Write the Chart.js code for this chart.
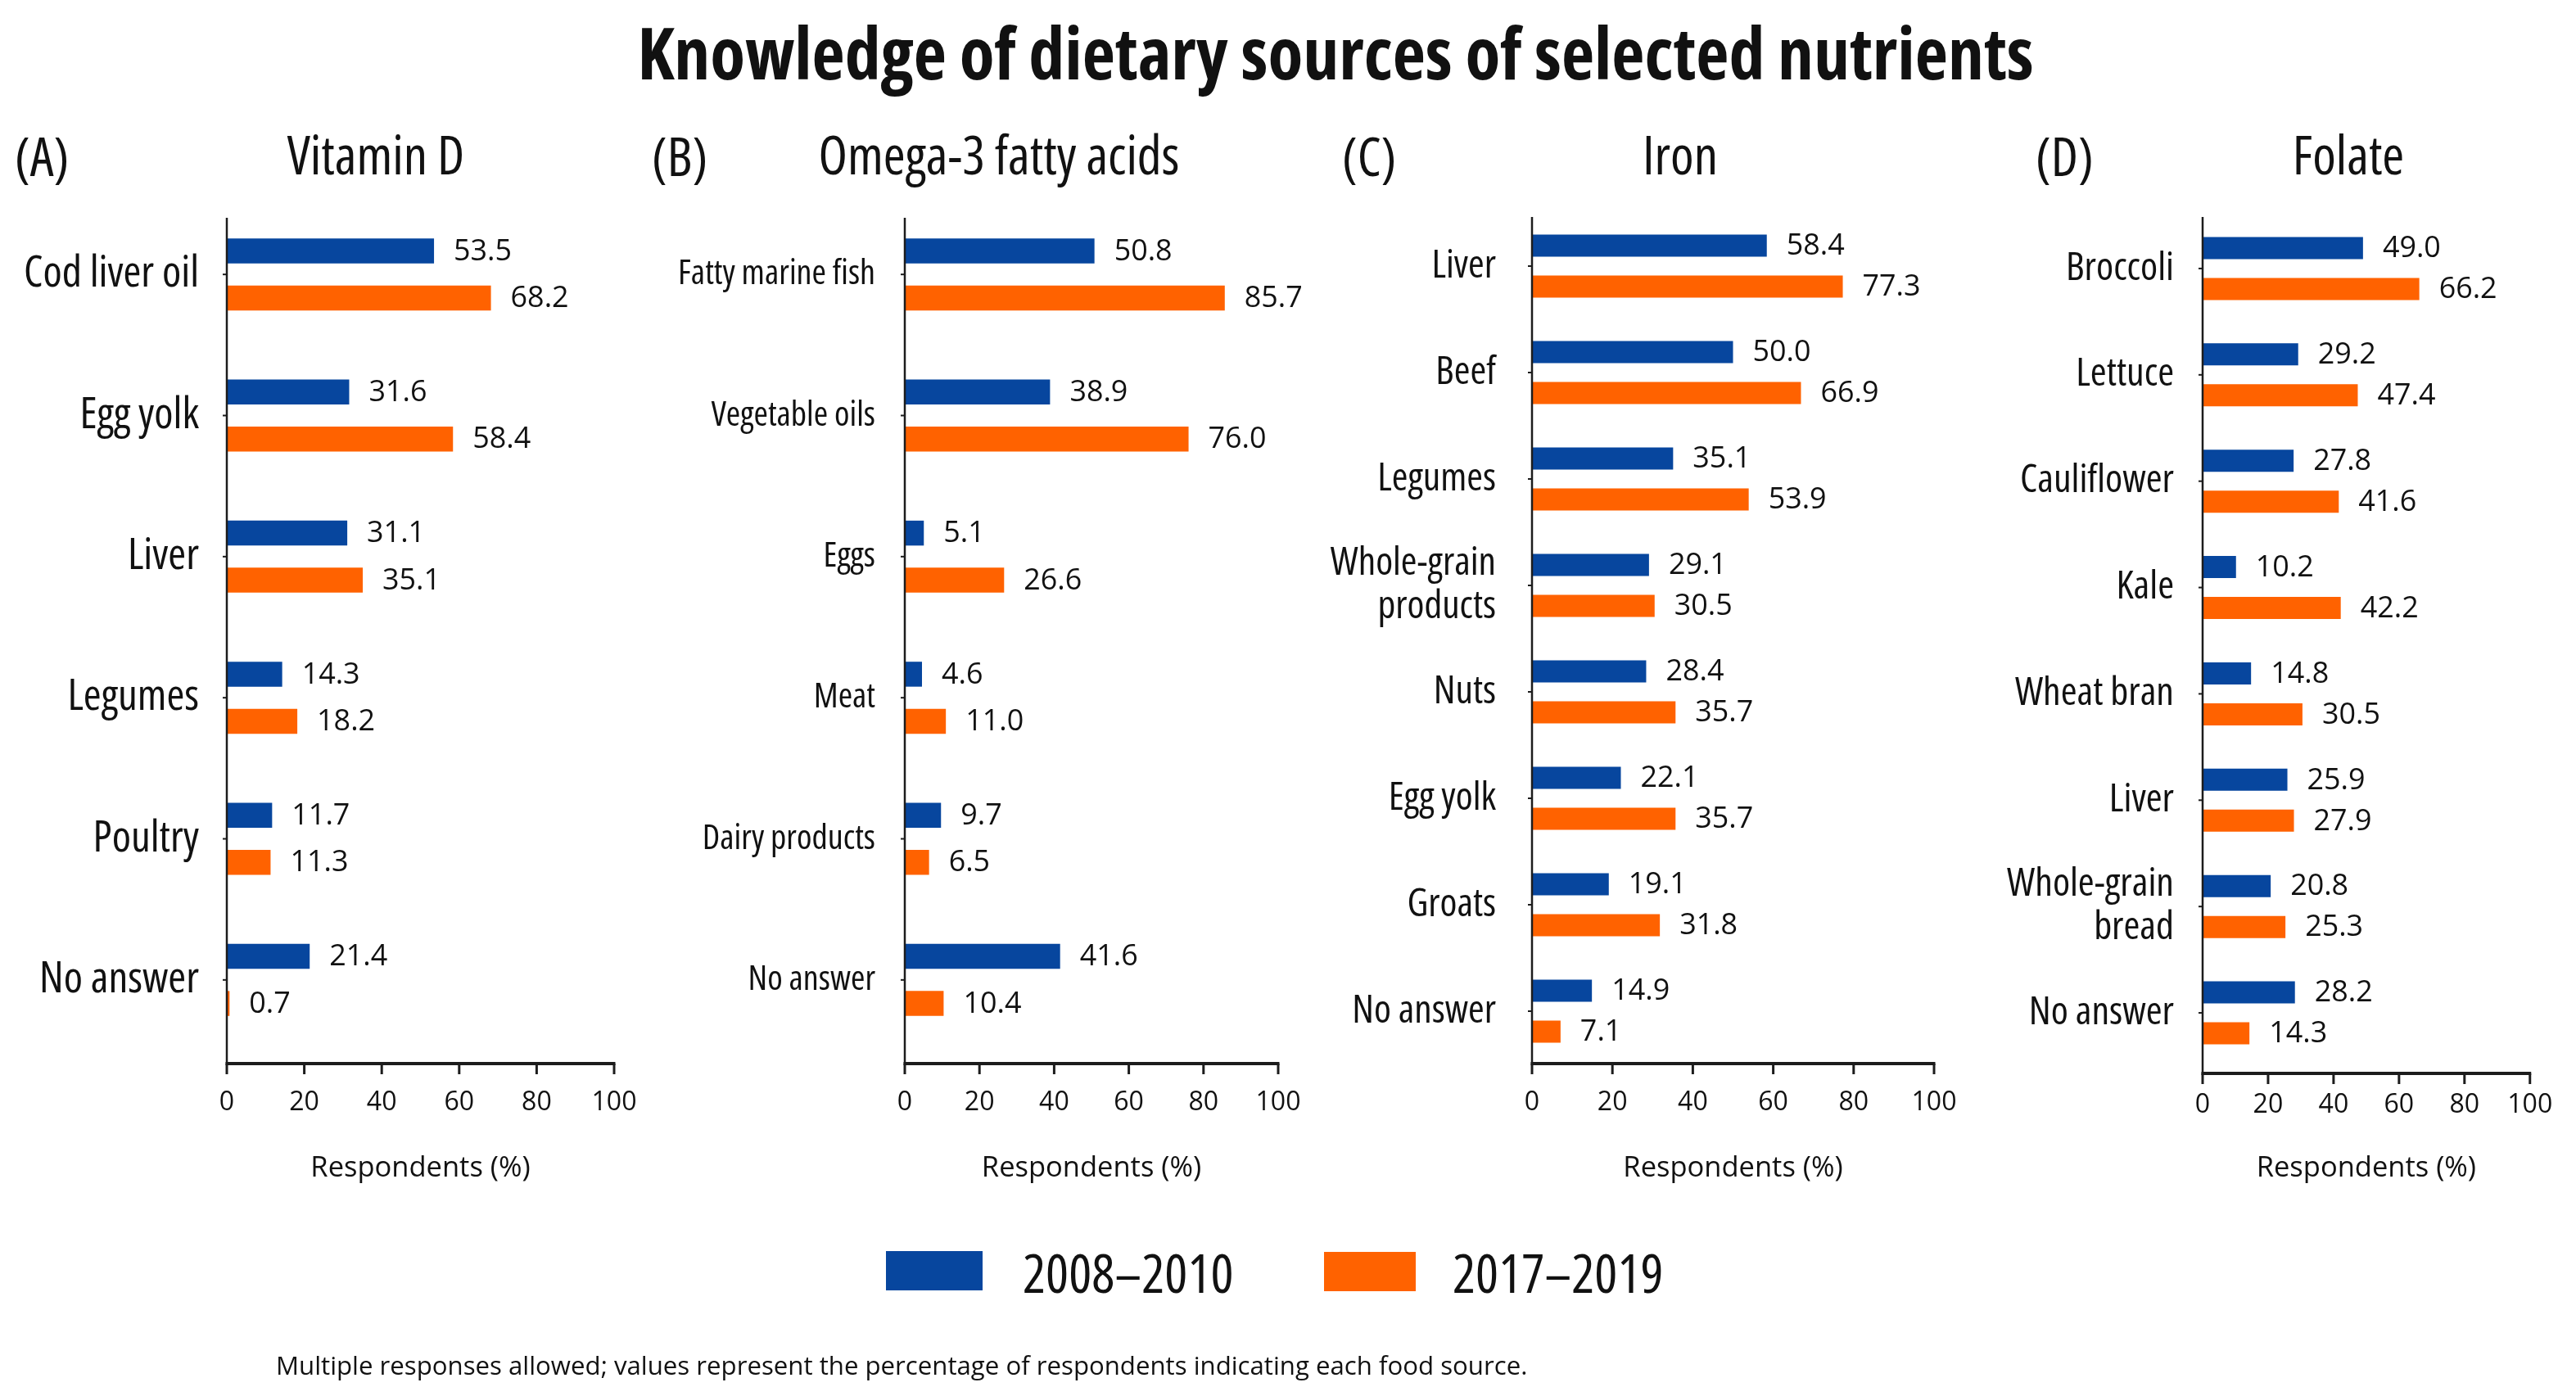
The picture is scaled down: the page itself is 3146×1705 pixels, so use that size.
<!DOCTYPE html>
<html>
<head>
<meta charset="utf-8">
<title>Knowledge of dietary sources of selected nutrients</title>
<script src="https://cdn.jsdelivr.net/npm/chart.js@4.4.1/dist/chart.umd.min.js"></script>
<style>
  body { margin: 0; background: #fff; width: 3146px; height: 1705px; position: relative; overflow: hidden; }
  .txt { position: absolute; white-space: nowrap; color: #111; line-height: 1; }
  .box { position: absolute; }
</style>
</head>
<body>
<script>
// data
const periods = ['2008–2010', '2017–2019'];
const xTicks = [0, 20, 40, 60, 80, 100];
const axisTitle = 'Respondents (%)';

const vitaminDFoods = ['Cod liver oil', 'Egg yolk', 'Liver', 'Legumes', 'Poultry', 'No answer'];
const vitaminD2008 = [53.5, 31.6, 31.1, 14.3, 11.7, 21.4];
const vitaminD2017 = [68.2, 58.4, 35.1, 18.2, 11.3, 0.7];

const omega3Foods = ['Fatty marine fish', 'Vegetable oils', 'Eggs', 'Meat', 'Dairy products', 'No answer'];
const omega32008 = [50.8, 38.9, 5.1, 4.6, 9.7, 41.6];
const omega32017 = [85.7, 76.0, 26.6, 11.0, 6.5, 10.4];

const ironFoods = ['Liver', 'Beef', 'Legumes', ['Whole-grain', 'products'], 'Nuts', 'Egg yolk', 'Groats', 'No answer'];
const iron2008 = [58.4, 50.0, 35.1, 29.1, 28.4, 22.1, 19.1, 14.9];
const iron2017 = [77.3, 66.9, 53.9, 30.5, 35.7, 35.7, 31.8, 7.1];

const folateFoods = ['Broccoli', 'Lettuce', 'Cauliflower', 'Kale', 'Wheat bran', 'Liver', ['Whole-grain', 'bread'], 'No answer'];
const folate2008 = [49.0, 29.2, 27.8, 10.2, 14.8, 25.9, 20.8, 28.2];
const folate2017 = [66.2, 47.4, 41.6, 42.2, 30.5, 27.9, 25.3, 14.3];

const blue = '#07469e';
const orange = '#ff6200';
const ink = '#111';

// pick the narrowest installed sans face
const fontCandidates = [
  { family: "'Noto Sans'", stretch: 'condensed' },
  { family: "'Open Sans'", stretch: 'condensed' },
  { family: "'Liberation Sans Narrow'", stretch: '' },
  { family: "'DejaVu Sans Condensed'", stretch: '' },
  { family: "'Noto Sans'", stretch: '' }
];
const measureCtx = document.createElement('canvas').getContext('2d');
let pageFont = fontCandidates[fontCandidates.length - 1];
let narrowest = Infinity;
fontCandidates.forEach(f => {
  measureCtx.font = (f.stretch ? f.stretch + ' ' : '') + '100px ' + f.family + ', monospace';
  const w = measureCtx.measureText('Fatty marine fish').width;
  if (w < narrowest) { narrowest = w; pageFont = f; }
});

function fontString(size, bold, stretch) {
  const st = stretch || pageFont.stretch;
  return (bold ? 'bold ' : '') + (st ? st + ' ' : '') + size + 'px ' + pageFont.family + ', sans-serif';
}
function fitSize(text, width, maxSize, bold, stretch) {
  measureCtx.font = fontString(100, bold, stretch);
  const s = 100 * width / measureCtx.measureText(text).width;
  return Math.min(maxSize, Math.round(s * 10) / 10);
}

Chart.defaults.font.family = pageFont.family + ', sans-serif';
Chart.defaults.font.weight = pageFont.stretch ? '400 ' + pageFont.stretch : '400';
Chart.defaults.color = ink;

// numbers and the axis title use the regular width
const tickSize = fitSize('100', 55, 37, false, 'normal');
const valueSize = fitSize('53.5', 71, 36, false, 'normal');
const axisTitleSize = fitSize(axisTitle, 268, 42, false, 'normal');

// html text helpers
function addText(text, x, y, size, opts = {}) {
  const d = document.createElement('div');
  d.className = 'txt';
  d.textContent = text;
  d.style.fontFamily = pageFont.family + ', sans-serif';
  const st = opts.stretch || pageFont.stretch;
  if (st) d.style.fontStretch = st;
  d.style.fontSize = size + 'px';
  d.style.fontWeight = opts.bold ? '700' : '400';
  d.style.left = x + 'px';
  d.style.top = y + 'px';
  d.style.transform = opts.center ? 'translate(-50%, -50%)' : 'translate(0, -50%)';
  document.body.appendChild(d);
}
function addBox(color, x, y, w, h) {
  const d = document.createElement('div');
  d.className = 'box';
  d.style.cssText = `left:${x}px;top:${y}px;width:${w}px;height:${h}px;background:${color}`;
  document.body.appendChild(d);
}

// value labels at the end of each bar
const valueLabels = {
  id: 'valueLabels',
  afterDatasetsDraw(chart) {
    const ctx = chart.ctx;
    ctx.save();
    ctx.font = fontString(valueSize, false, 'normal');
    ctx.fillStyle = ink;
    ctx.textAlign = 'left';
    ctx.textBaseline = 'middle';
    chart.data.datasets.forEach((ds, i) => {
      chart.getDatasetMeta(i).data.forEach((bar, j) => {
        ctx.fillText(ds.data[j].toFixed(1), bar.x + 24, bar.y + 1);
      });
    });
    ctx.restore();
  }
};

// axis lines and tick marks
const axisLines = {
  id: 'axisLines',
  afterDraw(chart, args, opts) {
    const { ctx, chartArea, scales: { x, y } } = chart;
    ctx.save();
    ctx.strokeStyle = '#1c1c1c';
    ctx.lineWidth = 2.5;
    ctx.beginPath();
    ctx.moveTo(chartArea.left, opts.top);
    ctx.lineTo(chartArea.left, opts.bottom);
    ctx.stroke();
    ctx.lineWidth = 2;
    y.ticks.forEach((t, i) => {
      const py = y.getPixelForValue(i);
      ctx.beginPath();
      ctx.moveTo(chartArea.left - 5, py);
      ctx.lineTo(chartArea.left, py);
      ctx.stroke();
    });
    ctx.lineWidth = 4;
    ctx.beginPath();
    ctx.moveTo(chartArea.left - 1.5, opts.bottom);
    ctx.lineTo(chartArea.right + 1.5, opts.bottom);
    ctx.stroke();
    ctx.lineWidth = 3;
    x.ticks.forEach(t => {
      const px = x.getPixelForValue(t.value);
      ctx.beginPath();
      ctx.moveTo(px, opts.bottom);
      ctx.lineTo(px, opts.bottom + 13);
      ctx.stroke();
    });
    ctx.restore();
  }
};

const panelSetup = [
  { key: '(A)', name: 'Vitamin D', foods: vitaminDFoods, early: vitaminD2008, late: vitaminD2017,
    left: 0, width: 870, axisX: 277, x100: 750, bandTop: 249, bandBottom: 1283, axisTop: 266, axisBottom: 1299,
    tickY: 1347, labelGap: 34, sample: 'Cod liver oil', sampleWidth: 214, maxLabel: 54,
    catPct: 0.667, barPct: 0.53, keyX: 18, nameX: 459 },
  { key: '(B)', name: 'Omega-3 fatty acids', foods: omega3Foods, early: omega32008, late: omega32017,
    left: 790, width: 880, axisX: 1105, x100: 1561, bandTop: 249, bandBottom: 1283, axisTop: 266, axisBottom: 1299,
    tickY: 1347, labelGap: 36, sample: 'Fatty marine fish', sampleWidth: 241, maxLabel: 46,
    catPct: 0.667, barPct: 0.53, keyX: 796, nameX: 1220 },
  { key: '(C)', name: 'Iron', foods: ironFoods, early: iron2008, late: iron2017,
    left: 1600, width: 880, axisX: 1871, x100: 2362, bandTop: 260, bandBottom: 1300, axisTop: 265, axisBottom: 1299,
    tickY: 1347, labelGap: 44, sample: 'Whole-grain', sampleWidth: 202, maxLabel: 48,
    catPct: 0.77, barPct: 0.54, keyX: 1639, nameX: 2052 },
  { key: '(D)', name: 'Folate', foods: folateFoods, early: folate2008, late: folate2017,
    left: 2420, width: 726, axisX: 2690, x100: 3105, bandTop: 263, bandBottom: 1302, axisTop: 265, axisBottom: 1311,
    tickY: 1350, labelGap: 35, sample: 'Cauliflower', sampleWidth: 188, maxLabel: 48,
    catPct: 0.77, barPct: 0.54, keyX: 2486, nameX: 2868 }
];

const headSize = fitSize('Omega-3 fatty acids', 447, 65);

panelSetup.forEach(p => {
  const canvas = document.createElement('canvas');
  canvas.width = p.width;
  canvas.height = 1705;
  canvas.style.cssText = `position:absolute;left:${p.left}px;top:0;width:${p.width}px;height:1705px`;
  document.body.appendChild(canvas);

  const labelSize = fitSize(p.sample, p.sampleWidth, p.maxLabel);

  new Chart(canvas, {
    type: 'bar',
    data: {
      labels: p.foods,
      datasets: [
        { label: periods[0], data: p.early, backgroundColor: blue },
        { label: periods[1], data: p.late, backgroundColor: orange }
      ]
    },
    options: {
      indexAxis: 'y',
      responsive: false,
      animation: false,
      devicePixelRatio: 1,
      categoryPercentage: p.catPct,
      barPercentage: p.barPct,
      layout: { padding: { top: p.bandTop, right: p.left + p.width - p.x100, left: 0, bottom: 0 } },
      plugins: {
        legend: { display: false },
        tooltip: { enabled: false },
        axisLines: { top: p.axisTop, bottom: p.axisBottom }
      },
      scales: {
        x: {
          type: 'linear',
          min: 0,
          max: 100,
          grid: { display: false, drawTicks: false },
          border: { display: false },
          afterBuildTicks: s => { s.ticks = xTicks.map(v => ({ value: v })); },
          afterFit: s => { s.height = 1705 - p.bandBottom; },
          ticks: {
            font: { size: tickSize, weight: '400' },
            padding: p.tickY - p.bandBottom - 0.6 * tickSize,
            maxRotation: 0,
            autoSkip: false
          },
          title: {
            display: true,
            text: axisTitle,
            font: { size: axisTitleSize, weight: '400' },
            padding: { top: 0, bottom: 1705 - 1427 - 0.6 * axisTitleSize }
          }
        },
        y: {
          grid: { display: false, drawTicks: false },
          border: { display: false },
          afterFit: s => { s.width = p.axisX - p.left; },
          ticks: {
            font: { size: labelSize, lineHeight: 1.1 },
            padding: p.labelGap,
            autoSkip: false
          }
        }
      }
    },
    plugins: [valueLabels, axisLines]
  });

  addText(p.key, p.keyX, 190, headSize);
  addText(p.name, p.nameX, 188, headSize, { center: true });
});

// title, legend, footnote
const mainTitle = 'Knowledge of dietary sources of selected nutrients';
addText(mainTitle, 1631, 64, fitSize(mainTitle, 1705, 90, true), { center: true, bold: true });

const legendSize = fitSize(periods[0], 262, 66);
addBox(blue, 1082, 1528, 118, 48);
addText(periods[0], 1249, 1553, legendSize);
addBox(orange, 1617, 1529, 112, 48);
addText(periods[1], 1774, 1553, legendSize);

const note = 'Multiple responses allowed; values represent the percentage of respondents indicating each food source.';
addText(note, 337, 1668, fitSize(note, 1529, 36, false, 'normal'), { stretch: 'normal' });
</script>
</body>
</html>
